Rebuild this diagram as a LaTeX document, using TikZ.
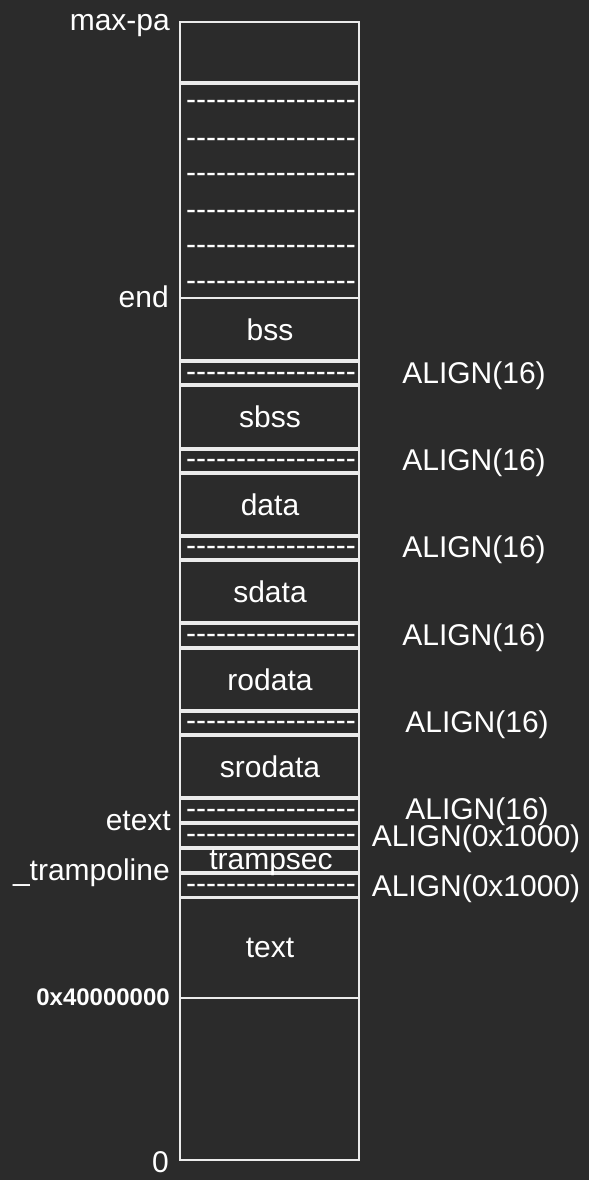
\documentclass[tikz,border=0pt]{standalone}
\usepackage{fontspec}
\setmainfont{Liberation Sans}
\definecolor{bgdark}{HTML}{2B2B2B}
\def\dashline{\foreach \i in {1,...,17}{-}}
\tikzset{
	mem/.style={draw=white!92!black, line width=1.6pt},
	lbl/.style={text=white, inner sep=0pt, font=\fontsize{30}{33}\selectfont},
	addr/.style={lbl, anchor=base east},
	align/.style={lbl, anchor=base},
	sect/.style={lbl, anchor=base},
	sep/.style={lbl, anchor=base}
}

\begin{document}
\begin{tikzpicture}[x=1pt, y=-1pt]
		%%%%% START %%%%%
		
		\fill[bgdark] (0, 0) rectangle (589, 1180);
		\useasboundingbox (0, 0) rectangle (589, 1180);
		
		% memory blocks, top to bottom
		\draw[mem] (180, 22) rectangle (359, 82);
		\draw[mem] (180, 84) rectangle (359, 298);
		\draw[mem] (180, 298) rectangle (359, 360);
		\draw[mem] (180, 362) rectangle (359, 384);
		\draw[mem] (180, 386) rectangle (359, 448);
		\draw[mem] (180, 450) rectangle (359, 472);
		\draw[mem] (180, 474) rectangle (359, 535);
		\draw[mem] (180, 537) rectangle (359, 559);
		\draw[mem] (180, 561) rectangle (359, 622);
		\draw[mem] (180, 624) rectangle (359, 647);
		\draw[mem] (180, 649) rectangle (359, 710);
		\draw[mem] (180, 712) rectangle (359, 734);
		\draw[mem] (180, 736) rectangle (359, 797);
		\draw[mem] (180, 799) rectangle (359, 822);
		\draw[mem] (180, 824) rectangle (359, 847);
		\draw[mem] (180, 849) rectangle (359, 872);
		\draw[mem] (180, 874) rectangle (359, 897);
		\draw[mem] (180, 898) rectangle (359, 998);
		\draw[mem] (180, 998) rectangle (359, 1160);
		
		% free space above end
		\node[sep] (free1) at (271, 110) {\dashline};
		\node[sep] (free2) at (271, 147) {\dashline};
		\node[sep] (free3) at (271, 182) {\dashline};
		\node[sep] (free4) at (271, 219) {\dashline};
		\node[sep] (free5) at (271, 254) {\dashline};
		\node[sep] (free6) at (271, 290) {\dashline};
		
		% padding
		\node[sep] (pad1) at (271, 381) {\dashline};
		\node[sep] (pad2) at (271, 468) {\dashline};
		\node[sep] (pad3) at (271, 555) {\dashline};
		\node[sep] (pad4) at (271, 643) {\dashline};
		\node[sep] (pad5) at (271, 730) {\dashline};
		\node[sep] (pad6) at (271, 818) {\dashline};
		\node[sep] (pad7) at (271, 843) {\dashline};
		\node[sep] (pad8) at (271, 893) {\dashline};
		
		% sections
		\node[sect] (bss) at (270, 340) {bss};
		\node[sect] (sbss) at (270, 427) {sbss};
		\node[sect] (data) at (270, 515) {data};
		\node[sect] (sdata) at (270, 602) {sdata};
		\node[sect] (rodata) at (270, 690) {rodata};
		\node[sect] (srodata) at (270, 777) {srodata};
		\node[sect] (trampsec) at (271, 869) {trampsec};
		\node[sect] (text) at (270, 957) {text};
		
		% addresses
		\node[addr] (maxpa) at (170, 31) {max-pa};
		\node[addr] (end) at (169, 307) {end};
		\node[addr] (etext) at (171, 830) {etext};
		\node[addr] (trampoline) at (170, 880) {\_trampoline};
		\node[addr, font=\fontsize{24}{28}\selectfont\bfseries] (base) at (170, 1005) {0x40000000};
		\node[addr] (zero) at (169, 1172) {0};
		
		% alignments
		\node[align] (al1) at (474, 383) {ALIGN(16)};
		\node[align] (al2) at (474, 470) {ALIGN(16)};
		\node[align] (al3) at (474, 557) {ALIGN(16)};
		\node[align] (al4) at (474, 645) {ALIGN(16)};
		\node[align] (al5) at (477, 732) {ALIGN(16)};
		\node[align] (al6) at (477, 819) {ALIGN(16)};
		\node[align] (al7) at (476, 846) {ALIGN(0x1000)};
		\node[align] (al8) at (476, 896) {ALIGN(0x1000)};
		
		%%%%% END %%%%%
	\end{tikzpicture}
\end{document}
